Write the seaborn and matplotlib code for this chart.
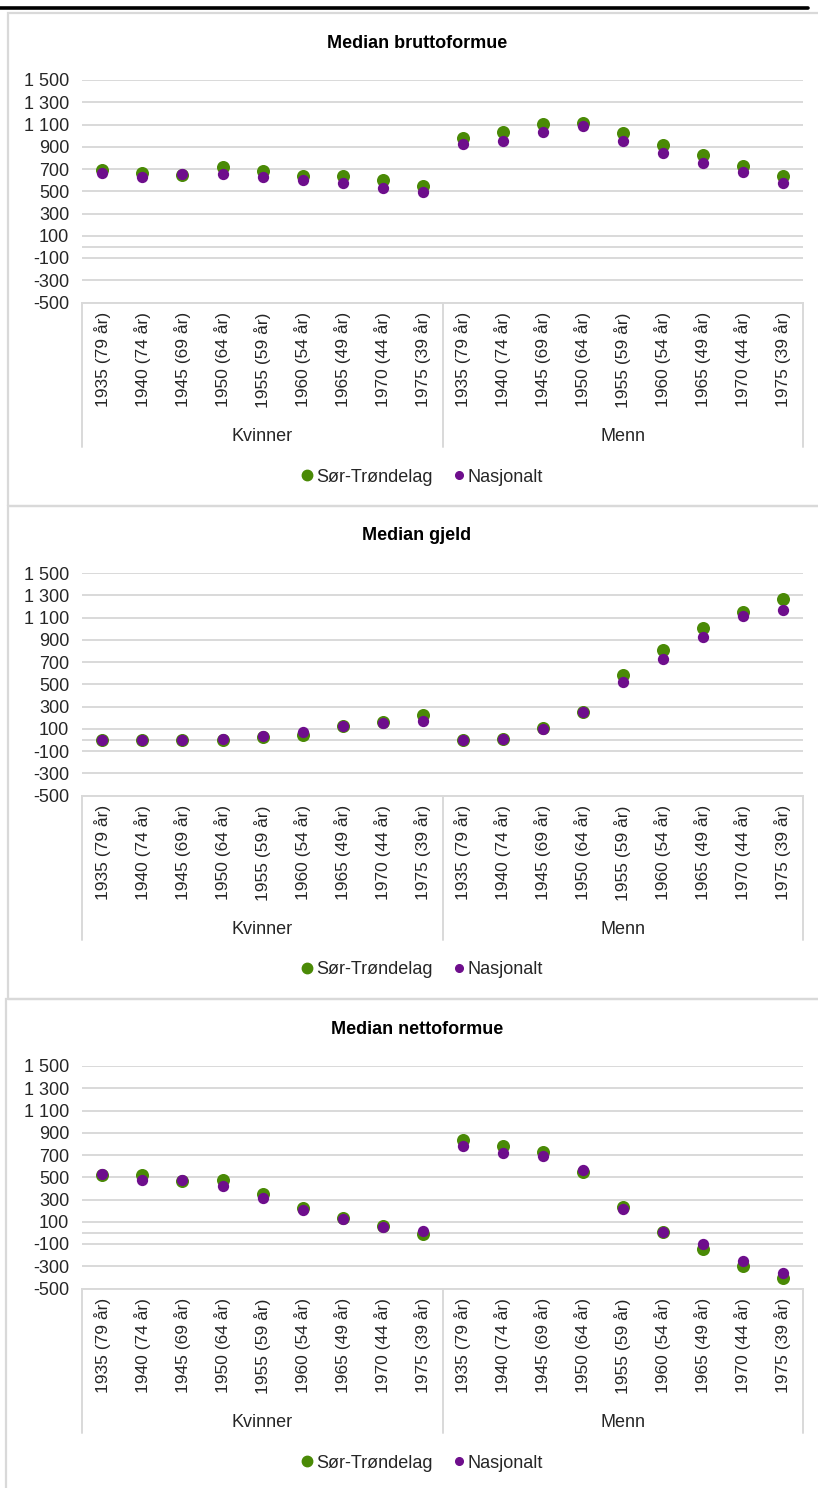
import matplotlib
matplotlib.use("Agg")
import matplotlib.pyplot as plt
import matplotlib.transforms as mtransforms
from matplotlib.lines import Line2D
from matplotlib.patches import Rectangle
import seaborn as sns
import pandas as pd

# ---------------- data ----------------
groups = ["Kvinner", "Menn"]
cohorts = ["1935 (79 år)", "1940 (74 år)", "1945 (69 år)", "1950 (64 år)", "1955 (59 år)",
           "1960 (54 år)", "1965 (49 år)", "1970 (44 år)", "1975 (39 år)"]
series_names = ["Sør-Trøndelag", "Nasjonalt"]
panel_titles = ["Median bruttoformue", "Median gjeld", "Median nettoformue"]
ytick_values = [-500, -300, -100, 100, 300, 500, 700, 900, 1100, 1300, 1500]
ytick_labels = ["-500", "-300", "-100", "100", "300", "500", "700", "900", "1 100", "1 300", "1 500"]

brutto_st = [690, 660, 645, 720, 682, 633, 633, 604, 543,
             978, 1035, 1104, 1113, 1026, 918, 826, 727, 639]
brutto_nat = [664, 628, 651, 655, 628, 601, 576, 529, 492,
              924, 954, 1035, 1083, 954, 846, 756, 675, 576]
gjeld_st = [-2, -3, -3, 0, 30, 46, 125, 160, 226,
            -3, 5, 109, 255, 580, 805, 1002, 1153, 1266]
gjeld_nat = [2, 0, 0, 4, 34, 70, 121, 148, 172,
             0, 8, 100, 250, 517, 724, 921, 1110, 1167]
netto_st = [518, 518, 467, 479, 350, 228, 132, 63, -6,
            832, 784, 725, 545, 231, 9, -147, -299, -404]
netto_nat = [530, 473, 473, 422, 314, 207, 123, 51, 18,
             778, 719, 692, 563, 216, 9, -102, -257, -362]

panel_data = [(brutto_st, brutto_nat), (gjeld_st, gjeld_nat), (netto_st, netto_nat)]

# ---------------- style ----------------
GREEN = "#4A8A06"
PURPLE = "#6E0E8C"
GRID = "#D9D9D9"
TXT = "#262626"

sns.set_style("white")
plt.rcParams["font.family"] = ["Liberation Sans", "DejaVu Sans"]

W, H = 818, 1488
fig = plt.figure(figsize=(W / 100, H / 100), dpi=100)

def fx(x):
    return x / W

def fy(y):
    return 1 - y / H

# header rule at the very top
fig.add_artist(Line2D([0, fx(808)], [fy(8), fy(8)], color="black", lw=2.6,
                      transform=fig.transFigure))

tops = [13, 506, 999]
box_left = [8, 8, 6]
ax_left, ax_right = 82.4, 803.0
top_off, bot_off = 67.0, 289.5
plot_h = bot_off - top_off

keys = [f"{g} {c}" for g in groups for c in cohorts]

for i, (T, title, (st, nat)) in enumerate(zip(tops, panel_titles, panel_data)):
    # panel frame
    fig.add_artist(Rectangle((fx(box_left[i]), fy(T + 493)), fx(W + 10 - box_left[i]), 493 / H,
                             transform=fig.transFigure, fill=False, edgecolor=GRID, lw=1.6))
    ax = fig.add_axes([fx(ax_left), fy(T + bot_off), fx(ax_right - ax_left), plot_h / H])
    df = pd.DataFrame({"kategori": keys * 2,
                       "verdi": list(st) + list(nat),
                       "serie": [series_names[0]] * len(keys) + [series_names[1]] * len(keys)})
    sns.scatterplot(data=df[df.serie == series_names[0]], x="kategori", y="verdi",
                    color=GREEN, s=88, linewidth=0, ax=ax, zorder=3, legend=False)
    sns.scatterplot(data=df[df.serie == series_names[1]], x="kategori", y="verdi",
                    color=PURPLE, s=66, linewidth=0, ax=ax, zorder=4, legend=False)
    ax.set_xlim(-0.5, len(keys) - 0.5)
    ax.set_ylim(-500, 1500)
    ax.set_yticks(ytick_values)
    ax.set_yticklabels(ytick_labels)
    ax.set_xticks(range(len(keys)))
    ax.set_xticklabels(cohorts * 2, rotation=90)
    ax.tick_params(axis="y", length=0, pad=9.5, labelsize=13, labelcolor=TXT)
    ax.tick_params(axis="x", length=0, pad=7, labelsize=12.5, labelcolor=TXT)
    ax.set_xlabel("")
    ax.set_ylabel("")
    ax.grid(axis="y", color=GRID, lw=1.4)
    ax.set_axisbelow(True)
    ax.axhline(0, color=GRID, lw=1.4, zorder=1)
    for sp in ["top", "right", "left"]:
        ax.spines[sp].set_visible(False)
    ax.spines["bottom"].set_color(GRID)
    ax.spines["bottom"].set_linewidth(1.4)
    ax.patch.set_alpha(0)

    trans = mtransforms.blended_transform_factory(ax.transData, ax.transAxes)
    depth = -144 / plot_h
    for xv in [-0.5, len(cohorts) - 0.5, len(keys) - 0.5]:
        ax.plot([xv, xv], [0, depth], color=GRID, lw=1.4, transform=trans, clip_on=False)
    for gi, g in enumerate(groups):
        ax.text(gi * len(cohorts) + (len(cohorts) - 1) / 2, -134 / plot_h, g,
                transform=trans, ha="center", va="center", fontsize=13, color=TXT)

    fig.text(fx(417), fy(T + 30), title, ha="center", va="center",
             fontsize=13, fontweight="bold", color="black")

    handles = [Line2D([], [], marker="o", ls="", color=GREEN, markersize=7.5),
               Line2D([], [], marker="o", ls="", color=PURPLE, markersize=5.5)]
    fig.legend(handles, series_names, loc="center", bbox_to_anchor=(fx(421), fy(T + 464)),
               ncol=2, frameon=False, fontsize=13, handletextpad=0.05, columnspacing=1.0,
               handlelength=0.9, labelcolor=TXT)

fig.savefig("out.png", dpi=100)
